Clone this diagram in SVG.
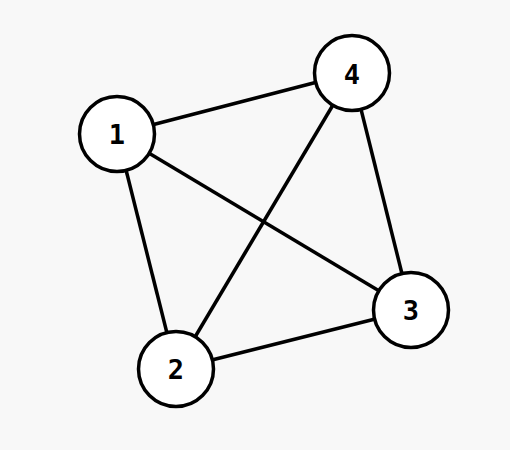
<svg xmlns="http://www.w3.org/2000/svg" width="510" height="450" viewBox="0 0 510 450">
<style>
.edge{stroke:#000;stroke-width:3.5;fill:none}
.node circle{fill:#fff;stroke:#000;stroke-width:3.5}
.node text{font-family:"DejaVu Sans Mono",monospace;font-weight:bold;font-size:27px;text-anchor:middle;dominant-baseline:central;fill:#000}
</style>
<rect width="510" height="450" fill="#f8f8f8"/>
<g id="edges">
<line class="edge" x1="117" y1="134" x2="352" y2="73"/>
<line class="edge" x1="117" y1="134" x2="176" y2="369"/>
<line class="edge" x1="117" y1="134" x2="411" y2="310"/>
<line class="edge" x1="352" y1="73" x2="176" y2="369"/>
<line class="edge" x1="352" y1="73" x2="411" y2="310"/>
<line class="edge" x1="176" y1="369" x2="411" y2="310"/>
</g>
<g id="node1" class="node"><circle cx="117" cy="134" r="37.5"/><text x="117" y="134">1</text></g>
<g id="node4" class="node"><circle cx="352" cy="73" r="37.5"/><text x="352" y="74">4</text></g>
<g id="node3" class="node"><circle cx="411" cy="310" r="37.5"/><text x="411" y="310">3</text></g>
<g id="node2" class="node"><circle cx="176" cy="369" r="37.5"/><text x="176" y="369">2</text></g>
</svg>
